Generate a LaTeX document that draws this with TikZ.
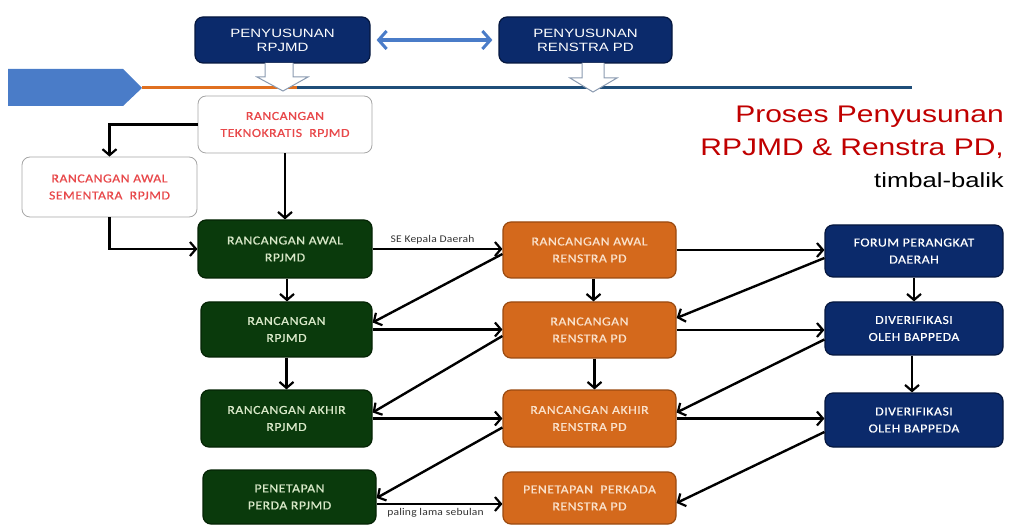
\documentclass[tikz,border=0pt]{standalone}
\usepackage{fontspec}
\setmainfont{Carlito}
\newfontfamily\arialf[FakeStretch=1.25]{Liberation Sans}
\newfontfamily\calf[FakeStretch=1.12,LetterSpace=4,FakeBold=0.6]{Carlito}
\newfontfamily\calfs[FakeStretch=1.12,LetterSpace=2]{Carlito}
\usetikzlibrary{arrows.meta,calc}
\definecolor{navy}{HTML}{0B2A6B}
\definecolor{navyd}{HTML}{05173F}
\definecolor{dgreen}{HTML}{0A3A0C}
\definecolor{dgreend}{HTML}{052405}
\definecolor{orng}{HTML}{D4691C}
\definecolor{orngd}{HTML}{9A4A10}
\definecolor{gtext}{HTML}{D8E8C8}
\definecolor{otext}{HTML}{FAE2CC}
\definecolor{rtext}{HTML}{E8484A}
\definecolor{titlered}{HTML}{C00000}
\definecolor{lblue}{HTML}{4A7CC8}
\definecolor{lineblue}{HTML}{1F4E79}
\definecolor{lineorange}{HTML}{E07020}
\definecolor{hollow}{HTML}{8A9AB0}
\tikzset{
  basebox/.style={rounded corners=8pt, align=center, inner sep=2pt, line width=1.2pt},
  topbox/.style={basebox, fill=navy, draw=navyd, text=white, font=\arialf\fontsize{12}{14}\selectfont},
  whitebox/.style={basebox, fill=white, draw=gray!70, line width=0.8pt, text=rtext, font=\calf\fontsize{12.3}{17}\selectfont},
  greenbox/.style={basebox, fill=dgreen, draw=dgreend, text=gtext, font=\calf\fontsize{12.3}{17}\selectfont},
  orangebox/.style={basebox, fill=orng, draw=orngd, text=otext, font=\calf\fontsize{12.3}{17}\selectfont},
  bluebox/.style={basebox, fill=navy, draw=navyd, text=white, font=\calf\fontsize{12.3}{17}\selectfont},
  conn/.style={draw=black, line width=2.4pt, -{Straight Barb[length=6pt,width=14pt,line width=2.2pt]}},
  smalllbl/.style={font=\calfs\fontsize{10.3}{11}\selectfont, text=black!80, inner sep=1pt}
}
\begin{document}
\begin{tikzpicture}[x=1pt,y=-1pt]
\useasboundingbox (0,0) rectangle (1009,526);
% timeline
\fill[lblue] (8,69) -- (123,69) -- (142,88) -- (123,106) -- (8,106) -- cycle;
\draw[lineorange, line width=3pt] (142,88) -- (297,88);
\draw[lineblue, line width=3pt] (297,88) -- (912,88);
% top boxes
\node[topbox, minimum width=175pt, minimum height=46pt] (pr) at (282.5,40) {PENYUSUNAN\\RPJMD};
\node[topbox, minimum width=173pt, minimum height=46pt] (pre) at (585.5,40) {PENYUSUNAN\\RENSTRA PD};
\draw[lblue, line width=3.5pt, {Straight Barb[length=8pt,width=18pt,line width=3pt]}-{Straight Barb[length=8pt,width=18pt,line width=3pt]}] ([xshift=6pt]pr.east) -- ([xshift=-6pt]pre.west);
% hollow arrows
\draw[hollow, fill=white, line width=1pt] (265,63) -- (265,77) -- (257,77) -- (283,91) -- (308,77) -- (293,77) -- (293,63);
\draw[hollow, fill=white, line width=1pt] (582,63) -- (582,78) -- (570,78) -- (593,92) -- (617,78) -- (604,78) -- (604,63);
% title
\node[anchor=east, text=titlered, font=\arialf\fontsize{24}{26}\selectfont, inner sep=0pt] (t1) at (1004,117) {Proses Penyusunan};
\node[anchor=east, text=titlered, font=\arialf\fontsize{24}{26}\selectfont, inner sep=0pt] (t2) at (1004,149) {RPJMD \& Renstra PD,};
\node[anchor=east, text=black, font=\arialf\fontsize{20.5}{22}\selectfont, inner sep=0pt] (t3) at (1004,180) {timbal-balik};
% white boxes
\node[whitebox, minimum width=174pt, minimum height=57pt] (tek) at (285,124.5) {RANCANGAN\\TEKNOKRATIS\ \ RPJMD};
\node[whitebox, minimum width=175pt, minimum height=60pt] (sem) at (109.5,187) {RANCANGAN AWAL\\SEMENTARA\ \ RPJMD};
% green boxes
\node[greenbox, minimum width=174pt, minimum height=58pt] (g1) at (285,249) {RANCANGAN AWAL\\RPJMD};
\node[greenbox, minimum width=171pt, minimum height=55pt] (g2) at (286.5,329.5) {RANCANGAN\\RPJMD};
\node[greenbox, minimum width=171pt, minimum height=57pt] (g3) at (286.5,418.5) {RANCANGAN AKHIR\\RPJMD};
\node[greenbox, minimum width=173pt, minimum height=54pt] (g4) at (289.5,497) {PENETAPAN\\PERDA RPJMD};
% orange boxes
\node[orangebox, minimum width=173pt, minimum height=56pt] (o1) at (589.5,250) {RANCANGAN AWAL\\RENSTRA PD};
\node[orangebox, minimum width=173pt, minimum height=56pt] (o2) at (589.5,330) {RANCANGAN\\RENSTRA PD};
\node[orangebox, minimum width=173pt, minimum height=57pt] (o3) at (589.5,418.5) {RANCANGAN AKHIR\\RENSTRA PD};
\node[orangebox, minimum width=173pt, minimum height=52pt] (o4) at (589.5,498) {PENETAPAN\ \ PERKADA\\RENSTRA PD};
% blue boxes
\node[bluebox, minimum width=178pt, minimum height=52pt] (f) at (914,251) {FORUM\ PERANGKAT\\DAERAH};
\node[bluebox, minimum width=178pt, minimum height=53pt] (d1) at (914,328.5) {DIVERIFIKASI\\OLEH\ BAPPEDA};
\node[bluebox, minimum width=178pt, minimum height=54pt] (d2) at (914,420) {DIVERIFIKASI\\OLEH\ BAPPEDA};
% connectors left
\draw[conn] (tek.west) -| (sem.north);
\draw[conn] (tek.south) -- (tek.south |- g1.north);
\draw[conn] (sem.south) |- (g1.west);
% verticals
\draw[conn] ([xshift=2pt]g1.south) -- ([xshift=2pt]g1.south |- g2.north);
\draw[conn] (g2.south) -- (g2.south |- g3.north);
\draw[conn] ([xshift=4pt]o1.south) -- ([xshift=4pt]o1.south |- o2.north);
\draw[conn] ([xshift=5pt]o2.south) -- ([xshift=5pt]o2.south |- o3.north);
\draw[conn] (f.south) -- (f.south |- d1.north);
\draw[conn] ([xshift=-2pt]d1.south) -- ([xshift=-2pt]d1.south |- d2.north);
% horizontals
\draw[conn] (g1.east) -- node[smalllbl, above=3pt, xshift=-5pt] {SE Kepala Daerah} (g1.east -| o1.west);
\draw[conn] (g2.east) -- (g2.east -| o2.west);
\draw[conn] (g3.east) -- (g3.east -| o3.west);
\draw[conn] ([yshift=-7pt]g4.east) -- node[smalllbl, below=2pt, xshift=-4pt] {paling lama sebulan} ([yshift=-7pt]g4.east -| o4.west);
\draw[conn] (o1.east) -- (o1.east -| f.west);
\draw[conn] (o2.east) -- (o2.east -| d1.west);
\draw[conn] (o3.east) -- (o3.east -| d2.west);
% diagonals back
\draw[conn] ([yshift=-4pt]o1.west) -- ([yshift=7pt]g2.east);
\draw[conn] ([yshift=-6pt]o2.west) -- ([yshift=6pt]g3.east);
\draw[conn] ([yshift=-9pt]o3.west) -- ([yshift=-1pt]g4.east);
\draw[conn] ([yshift=-7pt]f.west) -- ([yshift=12pt]o2.east);
\draw[conn] ([yshift=-11pt]d1.west) -- ([yshift=6pt]o3.east);
\draw[conn] ([yshift=-12pt]d2.west) -- ([yshift=-5pt]o4.east);
\end{tikzpicture}
\end{document}
